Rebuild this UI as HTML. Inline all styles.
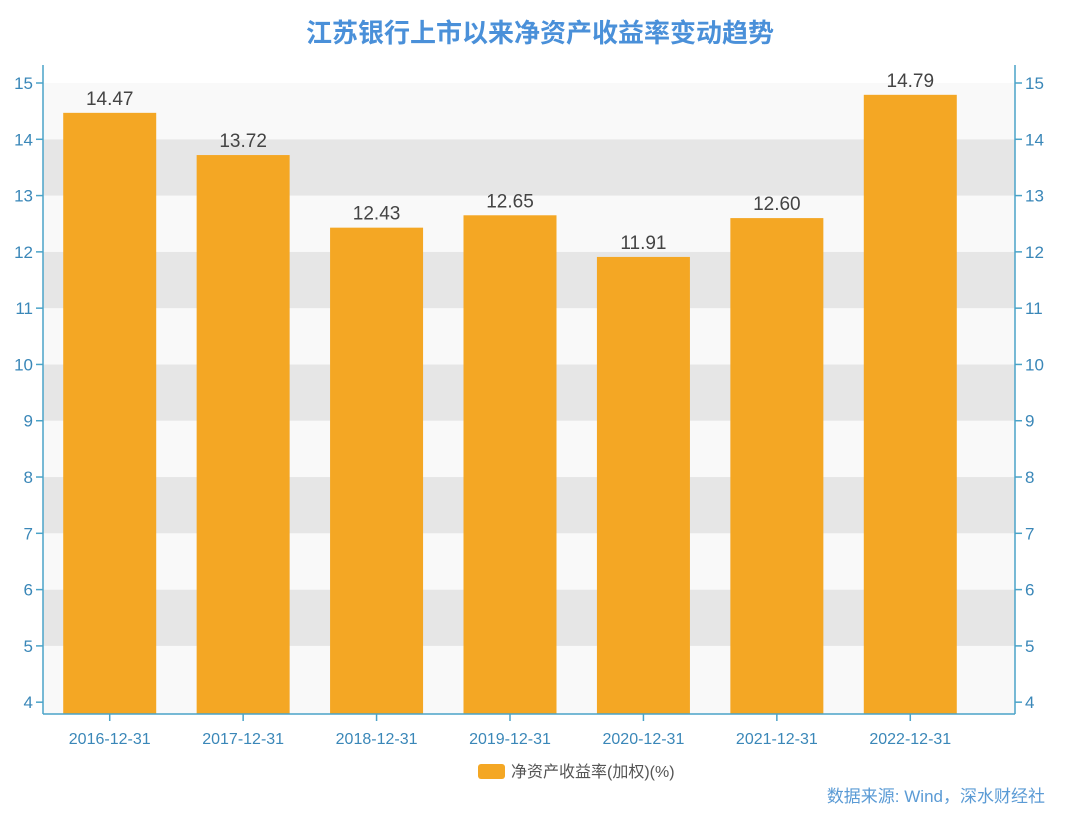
<!DOCTYPE html>
<html><head><meta charset="utf-8"><style>
html,body{margin:0;padding:0;background:#fff;width:1080px;height:815px;overflow:hidden}
svg{display:block}
text{font-family:"Liberation Sans","Noto Sans CJK SC",sans-serif}
</style></head><body>
<svg id="c" width="1080" height="815"></svg>
<script>
const categories=["2016-12-31","2017-12-31","2018-12-31","2019-12-31","2020-12-31","2021-12-31","2022-12-31"];
const roeValues=[14.47,13.72,12.43,12.65,11.91,12.60,14.79];
const valueLabels=["14.47","13.72","12.43","12.65","11.91","12.60","14.79"];
const yTicks=[4,5,6,7,8,9,10,11,12,13,14,15];
const yMin=3.79, yMax=15;
const L=43,R=1015,B=714,T15=83,catR=977;
const NS="http://www.w3.org/2000/svg";
const svg=document.getElementById('c');
function y(v){return B-(v-yMin)*(B-T15)/(yMax-yMin);}
const bw=(catR-L)/categories.length;
function x(i){return L+bw*(i+0.5);}
function el(t,a,p){const e=document.createElementNS(NS,t);for(const k in a)e.setAttribute(k,a[k]);(p||svg).appendChild(e);return e;}
let t=el('text',{x:540,y:42,'text-anchor':'middle','font-size':26,'font-weight':'bold',fill:'#4a90d9'});


t.textContent='江苏银行上市以来净资产收益率变动趋势';
for(let v=4;v<15;v++){
 const top=y(v+1),bot=v===4?B:y(v);
 const b=el('rect',{x:L,y:top,width:R-L,height:bot-top,fill:(v%2===1)?'#e6e6e6':'#f9f9f9'});
 
 
}
categories.forEach((c,i)=>{
 const w=93;
 const r=el('rect',{x:x(i)-w/2,y:y(roeValues[i]),width:w,height:B-y(roeValues[i]),fill:'#f4a724'});
 
 
 const lt=el('text',{x:x(i),y:y(roeValues[i])-8,'text-anchor':'middle','font-size':19,fill:'#444'});
 
 
 lt.textContent=valueLabels[i];
 const tk=el('line',{x1:x(i),x2:x(i),y1:B,y2:B+7,stroke:'#4aa3c8','stroke-width':1.5});
 
 
 const xl=el('text',{x:x(i),y:B+30,'text-anchor':'middle','font-size':16,fill:'#3a87b8'});
 
 
 xl.textContent=c;
});
[[L,L],[R,R]].forEach((p,k)=>{
 const a=el('line',{x1:p[0],x2:p[1],y1:65,y2:B,stroke:'#4aa3c8','stroke-width':1.5});
 
 
});
const xa=el('line',{x1:L,x2:R,y1:B,y2:B,stroke:'#4aa3c8','stroke-width':1.5});


yTicks.forEach(v=>{
 const yy=y(v);
 el('line',{x1:L-7,x2:L,y1:yy,y2:yy,stroke:'#4aa3c8','stroke-width':1.5});
 el('line',{x1:R,x2:R+7,y1:yy,y2:yy,stroke:'#4aa3c8','stroke-width':1.5});
 const a=el('text',{x:L-10,y:yy+6,'text-anchor':'end','font-size':17,fill:'#3a87b8'});
 
 
 a.textContent=v;
 const b=el('text',{x:R+10,y:yy+6,'text-anchor':'start','font-size':17,fill:'#3a87b8'});
 
 
 b.textContent=v;
});
const ls=el('rect',{x:478,y:764,width:27,height:15,rx:3,fill:'#f4a724'});


const lt=el('text',{x:511,y:777,'font-size':16,fill:'#555'});


lt.textContent='净资产收益率(加权)(%)';
const src=el('text',{x:1045,y:802,'text-anchor':'end','font-size':17,fill:'#5b9bd5'});


src.textContent='数据来源: Wind，深水财经社';
</script>
</body></html>
